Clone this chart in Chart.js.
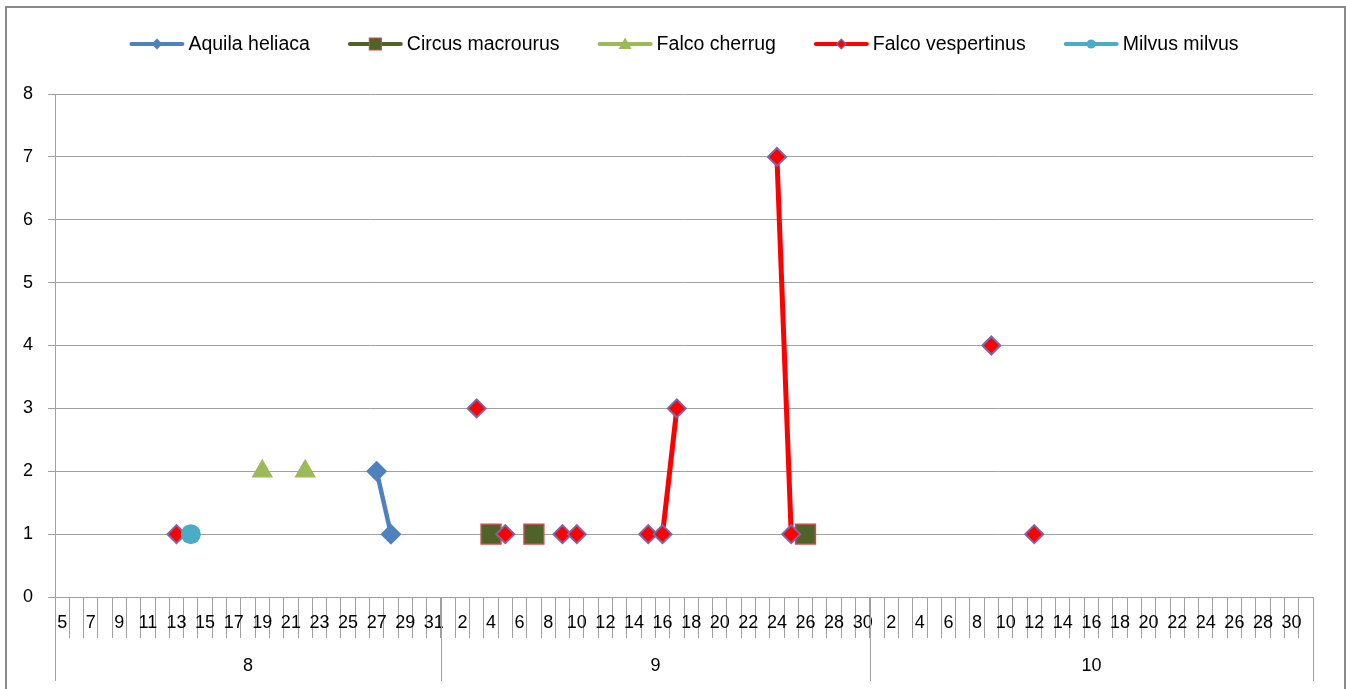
<!DOCTYPE html>
<html>
<head>
<meta charset="utf-8">
<script src="https://cdn.jsdelivr.net/npm/chart.js@4.4.1/dist/chart.umd.min.js"></script>
<style>
  html, body { margin: 0; padding: 0; background: #ffffff; }
  canvas { display: block; }
</style>
</head>
<body>
<canvas id="c" width="1346" height="689"></canvas>
<script>
// Category axis: days grouped by month
const monthNames = ['8', '9', '10'];
const monthFirstDay = [5, 1, 1];
const monthLastDay = [31, 30, 31];

// Counts per observation day ("month/day")
const aquilaDates = ['8/27', '8/28'];
const aquilaCounts = [2, 1];

const circusDates = ['9/4', '9/7', '9/26'];
const circusCounts = [1, 1, 1];

const cherrugDates = ['8/19', '8/22'];
const cherrugCounts = [2, 2];

const vespertinusDates = ['8/13', '9/3', '9/5', '9/9', '9/10', '9/15', '9/16', '9/17', '9/24', '9/25', '10/9', '10/12'];
const vespertinusCounts = [1, 3, 1, 1, 1, 1, 1, 3, 7, 1, 4, 1];

const milvusDates = ['8/14'];
const milvusCounts = [1];

const yMin = 0;
const yMax = 8;
const yStep = 1;

// ---- build category list ----
const categoryKeys = [];
const dayLabels = [];
const monthStart = [];
monthNames.forEach((m, k) => {
  monthStart.push(categoryKeys.length);
  for (let d = monthFirstDay[k]; d <= monthLastDay[k]; d++) {
    categoryKeys.push(m + '/' + d);
    dayLabels.push(String(d));
  }
});

function series(dates, counts) {
  const out = categoryKeys.map(() => null);
  dates.forEach((k, i) => { out[categoryKeys.indexOf(k)] = counts[i]; });
  return out;
}

const FONT = '"Liberation Sans", Arial, sans-serif';
const GRID = '#a0a0a0';

const datasets = [
  {
    label: 'Aquila heliaca', data: series(aquilaDates, aquilaCounts),
    borderColor: '#4F81BD', borderWidth: 4.5, backgroundColor: '#4F81BD',
    pointStyle: 'rectRot', pointRadius: 10.5, pointBackgroundColor: '#4F81BD',
    pointBorderColor: '#4F81BD', pointBorderWidth: 0, order: 5,
    legendMarker: { shape: 'diamond', size: 5.5, fill: '#4F81BD', stroke: null }
  },
  {
    label: 'Circus macrourus', data: series(circusDates, circusCounts),
    borderColor: '#4F6228', borderWidth: 4.5, backgroundColor: '#4F6228',
    pointStyle: 'rect', pointRadius: 14, pointBackgroundColor: '#4F6228',
    pointBorderColor: '#C0504D', pointBorderWidth: 1.5, order: 4,
    legendMarker: { shape: 'square', size: 6, fill: '#4F6228', stroke: '#C0504D' }
  },
  {
    label: 'Falco cherrug', data: series(cherrugDates, cherrugCounts),
    borderColor: '#9BBB59', borderWidth: 4.5, backgroundColor: '#9BBB59',
    pointStyle: 'triangle', pointRadius: 12.5, pointBackgroundColor: '#9BBB59',
    pointBorderColor: '#9BBB59', pointBorderWidth: 0, order: 3,
    legendMarker: { shape: 'triangle', size: 6.5, fill: '#9BBB59', stroke: null }
  },
  {
    label: 'Falco vespertinus', data: series(vespertinusDates, vespertinusCounts),
    borderColor: '#FF0000', borderWidth: 5, backgroundColor: '#FF0000',
    pointStyle: 'rectRot', pointRadius: 9, pointBackgroundColor: '#FF0000',
    pointBorderColor: '#7F66AA', pointBorderWidth: 2, order: 2,
    legendMarker: { shape: 'diamond', size: 4.8, fill: '#FF0000', stroke: '#7F66AA' }
  },
  {
    label: 'Milvus milvus', data: series(milvusDates, milvusCounts),
    borderColor: '#4BACC6', borderWidth: 4.5, backgroundColor: '#4BACC6',
    pointStyle: 'circle', pointRadius: 10, pointBackgroundColor: '#4BACC6',
    pointBorderColor: '#4BACC6', pointBorderWidth: 0, order: 1,
    legendMarker: { shape: 'circle', size: 4.6, fill: '#4BACC6', stroke: null }
  }
];
datasets.forEach(ds => { ds.pointHoverRadius = ds.pointRadius; ds.spanGaps = false; ds.tension = 0; });

function drawMarker(ctx, m, x, y) {
  ctx.save();
  ctx.beginPath();
  const s = m.size;
  if (m.shape === 'diamond') {
    ctx.moveTo(x, y - s); ctx.lineTo(x + s, y); ctx.lineTo(x, y + s); ctx.lineTo(x - s, y); ctx.closePath();
  } else if (m.shape === 'square') {
    ctx.rect(x - s, y - s, 2 * s, 2 * s);
  } else if (m.shape === 'triangle') {
    ctx.moveTo(x, y - s); ctx.lineTo(x + s, y + s * 0.75); ctx.lineTo(x - s, y + s * 0.75); ctx.closePath();
  } else {
    ctx.arc(x, y, s, 0, Math.PI * 2);
  }
  ctx.fillStyle = m.fill;
  ctx.fill();
  if (m.stroke) { ctx.strokeStyle = m.stroke; ctx.lineWidth = 1.2; ctx.stroke(); }
  ctx.restore();
}

const decorations = {
  id: 'decorations',
  beforeDraw(chart) {
    const ctx = chart.ctx;
    ctx.save();
    ctx.fillStyle = '#ffffff';
    ctx.fillRect(0, 0, chart.width, chart.height);
    ctx.strokeStyle = '#8a8a8a';
    ctx.lineWidth = 2;
    ctx.strokeRect(6, 7, chart.width - 7, chart.height + 20);
    ctx.restore();
  },
  afterDraw(chart) {
    const ctx = chart.ctx;
    const xs = chart.scales.x;
    const area = chart.chartArea;
    const half = (xs.getPixelForValue(1) - xs.getPixelForValue(0)) / 2;

    // month grouping row
    ctx.save();
    ctx.strokeStyle = GRID;
    ctx.lineWidth = 1;
    ctx.fillStyle = '#000000';
    ctx.font = '18px ' + FONT;
    ctx.textAlign = 'center';
    ctx.textBaseline = 'middle';
    const edges = monthStart.map(i => xs.getPixelForValue(i) - half);
    edges.push(xs.getPixelForValue(categoryKeys.length - 1) + half);
    edges.forEach(px => {
      const x = Math.round(px) + 0.5;
      ctx.beginPath();
      ctx.moveTo(x, area.bottom);
      ctx.lineTo(x, area.bottom + 84);
      ctx.stroke();
    });
    monthNames.forEach((m, k) => {
      ctx.fillText(m, (edges[k] + edges[k + 1]) / 2, area.bottom + 69);
    });
    ctx.restore();

    // legend: line sample with marker, then name
    ctx.save();
    ctx.font = '19.5px ' + FONT;
    ctx.textBaseline = 'middle';
    ctx.textAlign = 'left';
    const lineLen = 55, gapText = 4, gapItem = 38, ly = 44;
    const items = chart.data.datasets.map(ds => ({ ds, w: lineLen + gapText + ctx.measureText(ds.label).width }));
    const total = items.reduce((a, it) => a + it.w, 0) + gapItem * (items.length - 1);
    let x = (area.left + area.right) / 2 - total / 2;
    items.forEach(it => {
      ctx.strokeStyle = it.ds.borderColor;
      ctx.lineWidth = 4;
      ctx.lineCap = 'round';
      ctx.beginPath();
      ctx.moveTo(x + 2, ly);
      ctx.lineTo(x + lineLen - 2, ly);
      ctx.stroke();
      drawMarker(ctx, it.ds.legendMarker, x + lineLen / 2, ly);
      ctx.fillStyle = '#000000';
      ctx.fillText(it.ds.label, x + lineLen + gapText, ly + 1);
      x += it.w + gapItem;
    });
    ctx.restore();
  }
};

new Chart(document.getElementById('c'), {
  type: 'line',
  data: { labels: categoryKeys, datasets },
  options: {
    responsive: false,
    devicePixelRatio: 1,
    animation: false,
    layout: { padding: { left: 0, right: 33, top: 94, bottom: 8 } },
    plugins: { legend: { display: false }, tooltip: { enabled: false }, title: { display: false } },
    scales: {
      x: {
        type: 'category',
        offset: true,
        grid: { offset: true, drawOnChartArea: false, drawTicks: true, tickLength: 41, color: GRID, lineWidth: 1 },
        border: { display: true, color: GRID, width: 1 },
        ticks: {
          autoSkip: false, maxRotation: 0, minRotation: 0, padding: -26,
          color: '#000000', font: { family: FONT, size: 18 },
          callback: (v, i) => (i % 2 === 0 ? dayLabels[i] : '')
        },
        afterFit: s => { s.height = 84; }
      },
      y: {
        min: yMin, max: yMax,
        grid: { color: GRID, lineWidth: 1, drawTicks: true, tickLength: 7 },
        border: { display: true, color: GRID, width: 1 },
        ticks: { stepSize: yStep, padding: 15, color: '#000000', font: { family: FONT, size: 18 } },
        afterFit: s => { s.width = 55; }
      }
    }
  },
  plugins: [decorations]
});
</script>
</body>
</html>
